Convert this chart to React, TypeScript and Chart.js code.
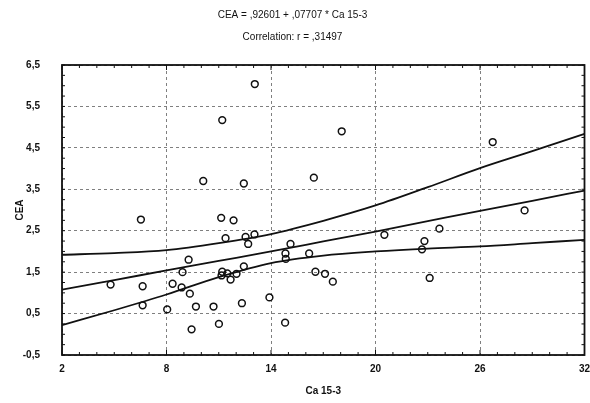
import React, { useEffect, useRef } from 'react';
import { Chart, registerables } from 'chart.js';

Chart.register(...registerables);

// ---- Data ----
const caValues = [
  13.07, 11.2, 10.11, 12.44, 16.46, 6.53, 11.14, 11.85, 11.39, 12.54,
  13.05, 12.69, 15.12, 14.83, 14.85, 16.19, 9.27, 8.92, 11.2, 11.16,
  11.49, 12.02, 11.68, 12.44, 16.55, 17.1, 4.79, 6.63, 8.35, 8.87,
  9.34, 6.63, 8.04, 9.69, 10.7, 12.33, 13.91, 9.44, 11.01, 14.81,
  18.06, 26.73, 28.56, 20.51, 23.67, 22.81, 22.67, 23.11, 17.55,
];
const ceaValues = [
  6.04, 5.17, 3.7, 3.64, 3.78, 2.77, 2.81, 2.75, 2.32, 2.35,
  2.41, 2.18, 2.18, 1.95, 1.82, 1.95, 1.8, 1.5, 1.51, 1.42,
  1.47, 1.46, 1.32, 1.64, 1.51, 1.46, 1.2, 1.16, 1.22, 1.13,
  0.98, 0.7, 0.6, 0.67, 0.67, 0.75, 0.89, 0.12, 0.25, 0.28,
  4.9, 4.64, 2.99, 2.4, 2.55, 2.25, 2.05, 1.36, 1.27,
];

const bandX = [2, 5, 8, 11, 14, 17, 20, 23, 26, 29, 32];
const fitLine = [1.08, 1.31, 1.54, 1.77, 2.0, 2.24, 2.48, 2.73, 2.98, 3.22, 3.47];
const upperBand = [1.92, 1.96, 2.03, 2.2, 2.42, 2.74, 3.11, 3.55, 4.01, 4.42, 4.84];
const lowerBand = [0.22, 0.58, 0.96, 1.38, 1.72, 1.9, 2.0, 2.07, 2.12, 2.2, 2.28];

const xTicks = [2, 8, 14, 20, 26, 32];
const yTicks = [-0.5, 0.5, 1.5, 2.5, 3.5, 4.5, 5.5, 6.5];

const titleLine1 = 'CEA = ,92601 + ,07707 * Ca 15-3';
const titleLine2 = 'Correlation: r = ,31497';
const xTitle = 'Ca 15-3';
const yTitle = 'CEA';

const FONT = "'Liberation Sans', Arial, sans-serif";
const INK = '#111';

const fmt = (v: number) => String(v).replace('.', ',');

const framePlugin = {
  id: 'frameAndMinorTicks',
  afterDatasetsDraw(chart: any) {
    const { ctx, chartArea, scales } = chart;
    const { left, right, top, bottom } = chartArea;
    const xs = scales.x;
    const ys = scales.y;
    ctx.save();
    ctx.strokeStyle = INK;
    ctx.lineWidth = 1;
    ctx.beginPath();
    for (let v = xs.min; v <= xs.max + 1e-9; v += 1) {
      const p = xs.getPixelForValue(v);
      const len = xTicks.includes(v) ? 5 : 3;
      ctx.moveTo(p, bottom);
      ctx.lineTo(p, bottom - len);
      ctx.moveTo(p, top);
      ctx.lineTo(p, top + len);
    }
    for (let v = ys.min; v <= ys.max + 1e-9; v += 0.25) {
      const p = ys.getPixelForValue(v);
      const len = 3;
      ctx.moveTo(left, p);
      ctx.lineTo(left + len, p);
      ctx.moveTo(right, p);
      ctx.lineTo(right - len, p);
    }
    ctx.stroke();
    ctx.lineWidth = 1.8;
    ctx.strokeRect(left, top, right - left, bottom - top);
    ctx.restore();
  },
};

export default function App() {
  const canvasRef = useRef<HTMLCanvasElement | null>(null);

  useEffect(() => {
    document.body.style.margin = '0';
    const canvas = canvasRef.current;
    if (!canvas) return;

    const lineDs = (data: number[]) => ({
      type: 'line' as const,
      data: bandX.map((x, i) => ({ x, y: data[i] })),
      borderColor: INK,
      borderWidth: 1.8,
      pointRadius: 0,
      fill: false,
      cubicInterpolationMode: 'monotone' as const,
    });

    const chart = new Chart(canvas, {
      type: 'scatter',
      data: {
        datasets: [
          {
            type: 'scatter',
            data: caValues.map((x, i) => ({ x, y: ceaValues[i] })),
            pointStyle: 'circle',
            pointRadius: 3.4,
            borderWidth: 1.5,
            borderColor: INK,
            backgroundColor: 'rgba(0,0,0,0)',
          } as any,
          lineDs(fitLine),
          lineDs(upperBand),
          lineDs(lowerBand),
        ],
      },
      options: {
        animation: false,
        responsive: false,
        devicePixelRatio: 1,
        layout: { padding: { left: 0, right: 5, top: 0, bottom: 0 } },
        plugins: {
          legend: { display: false },
          tooltip: { enabled: false },
          title: {
            display: true,
            text: titleLine1,
            color: INK,
            font: { family: FONT, size: 10, weight: 'normal' },
            padding: { top: 9, bottom: 10 },
          },
          subtitle: {
            display: true,
            text: titleLine2,
            color: INK,
            font: { family: FONT, size: 10, weight: 'normal' },
            padding: { top: 0, bottom: 22 },
          },
        },
        scales: {
          x: {
            type: 'linear',
            min: 2,
            max: 32,
            afterBuildTicks: (scale: any) => {
              scale.ticks = xTicks.map((v) => ({ value: v }));
            },
            afterFit: (scale: any) => {
              scale.height = 48;
              scale.paddingLeft = 0;
              scale.paddingRight = 0;
            },
            ticks: {
              color: INK,
              padding: 8,
              maxRotation: 0,
              font: { family: FONT, size: 10, weight: 'bold' },
              callback: (v: any) => fmt(Number(v)),
            },
            grid: {
              drawTicks: false,
              color: 'rgba(0,0,0,0.5)',
              lineWidth: 1,
            },
            border: { display: false, dash: [3, 3] },
            title: {
              display: true,
              text: xTitle,
              color: INK,
              font: { family: FONT, size: 10, weight: 'bold' },
              padding: { top: 4, bottom: 6 },
            },
          },
          y: {
            type: 'linear',
            min: -0.5,
            max: 6.5,
            afterBuildTicks: (scale: any) => {
              scale.ticks = yTicks.map((v) => ({ value: v }));
            },
            afterFit: (scale: any) => {
              scale.width = 62;
              scale.paddingTop = 0;
              scale.paddingBottom = 0;
            },
            ticks: {
              color: INK,
              padding: 22,
              font: { family: FONT, size: 10, weight: 'bold' },
              callback: (v: any) => fmt(Number(v)),
            },
            grid: {
              drawTicks: false,
              color: 'rgba(0,0,0,0.5)',
              lineWidth: 1,
            },
            border: { display: false, dash: [3, 3] },
            title: {
              display: true,
              text: yTitle,
              color: INK,
              font: { family: FONT, size: 10, weight: 'bold' },
              padding: { top: 14, bottom: 0 },
            },
          },
        },
      },
      plugins: [framePlugin],
    });

    return () => chart.destroy();
  }, []);

  return (
    <div style={{ position: 'fixed', left: 0, top: 0, width: 590, height: 403, background: '#fff' }}>
      <canvas ref={canvasRef} width={590} height={403} style={{ width: 590, height: 403, display: 'block' }} />
    </div>
  );
}
